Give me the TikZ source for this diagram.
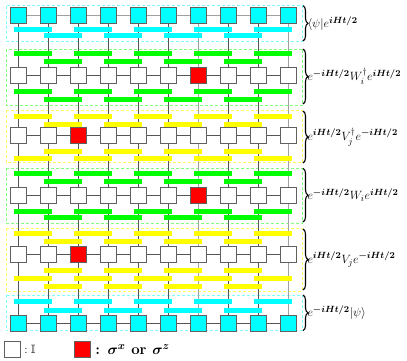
\documentclass[tikz,border=0pt]{standalone}
\usepackage{amsmath}
\usepackage{amssymb}
\usepackage{bm}
\usepackage{tikz}
\usetikzlibrary{positioning, decorations.pathreplacing, backgrounds}
\definecolor{qcyan}{HTML}{00FFFF}
\definecolor{qgreen}{HTML}{00FF00}
\definecolor{qyellow}{HTML}{FFFF00}
\definecolor{qred}{HTML}{FF0000}
\definecolor{dcyan}{HTML}{80FFFF}
\definecolor{dgreen}{HTML}{80FF80}
\definecolor{dyellow}{HTML}{FFFF60}
\definecolor{wiredark}{HTML}{555555}
\definecolor{wirelight}{HTML}{A0A0A0}
\definecolor{siteedge}{HTML}{606060}
\newcommand{\bexp}[1]{e^{\boldsymbol{#1}}}

\begin{document}
\begin{tikzpicture}[x=1pt, y=-1pt,
    site/.style={draw=siteedge, line width=1pt, minimum size=16pt, inner sep=0pt},
    gate/.style={inner sep=0pt, minimum width=38pt, minimum height=5pt},
    wire/.style={draw=wiredark, line width=0.9pt},
    softwire/.style={draw=wirelight, line width=1.3pt},
    layerbox/.style={dashed, line width=0.8pt, dash pattern=on 3pt off 2pt},
    bracket/.style={decorate, decoration={brace, amplitude=5pt}, line width=1.1pt},
    tag/.style={midway, anchor=west, xshift=4pt, inner sep=0pt, font=\fontsize{13}{15}\selectfont}]
  \useasboundingbox (0,0) rectangle (407,361);

  % sites of the six rows
  \foreach \r/\y/\col/\hit in {1/15.7/qcyan/0, 2/75.7/white/7, 3/135.7/white/3,
                               4/195/white/7, 5/254.3/white/3, 6/323.3/qcyan/0}{
    \foreach \c in {1,...,10}{
      \ifnum\c=\hit \def\f{qred}\else \def\f{\col}\fi
      \node[site, fill=\f] (s\r-\c) at ({18.3+30*(\c-1)},\y) {};
    }
  }

  % dashed boxes and wires behind
  \begin{scope}[on background layer]
    \draw[layerbox, dcyan]   (6,5.7)   rectangle (302.5,41);
    \draw[layerbox, dgreen]  (6,49)    rectangle (302.5,105.3);
    \draw[layerbox, dyellow] (6,110)   rectangle (302.5,162.7);
    \draw[layerbox, dgreen]  (6,168.3) rectangle (302.5,223.3);
    \draw[layerbox, dyellow] (6,228.3) rectangle (302.5,291);
    \draw[layerbox, dcyan]   (6,295)   rectangle (302.5,330.7);
    \foreach \c in {1,...,10}{
      \ifnum\c=7 \def\w{softwire}\else\ifnum\c=10 \def\w{softwire}\else \def\w{wire}\fi\fi
      \draw[\w] (s1-\c) -- (s6-\c);
    }
    \foreach \c [evaluate=\c as \n using int(\c+1)] in {1,...,9}{
      \draw[softwire] (s1-\c) -- (s1-\n);
      \foreach \r in {2,...,6}
        \draw[wire] (s\r-\c) -- (s\r-\n);
    }
  \end{scope}

  % two-site gates, layer by layer (0: even bonds, 1: odd bonds)
  \foreach \l/\y/\col/\sh in {1/29.3/qcyan/0, 2/35.7/qcyan/1,
      3/54/qgreen/0, 4/61.7/qgreen/1, 5/91/qgreen/0, 6/99/qgreen/1,
      7/116/qyellow/0, 8/124/qyellow/1, 9/151/qyellow/1, 10/158.3/qyellow/0,
      11/173.3/qgreen/0, 12/181/qgreen/1, 13/211/qgreen/0, 14/217.7/qgreen/1,
      15/233.3/qyellow/0, 16/241/qyellow/1, 17/270.7/qyellow/1, 18/278.3/qyellow/0,
      19/286/qyellow/1, 20/301.7/qcyan/0, 21/310/qcyan/1}{
    \ifnum\sh=0 \def\nb{5}\else \def\nb{4}\fi
    \foreach \k in {1,...,\nb}
      \node[gate, fill=\col] (g\l-\k) at ({33.3+30*\sh+60*(\k-1)},\y) {};
  }

  % braces and labels
  \draw[bracket] (303,5.7) -- (303,41)
    node[tag] {$\langle\psi|\bexp{iHt/2}$};
  \draw[bracket] (303,49) -- (303,104)
    node[tag] {$\bexp{-iHt/2}W_i^\dagger\bexp{iHt/2}$};
  \draw[bracket] (303,111) -- (303,163)
    node[tag] {$\bexp{iHt/2}V_j^\dagger\bexp{-iHt/2}$};
  \draw[bracket] (303,168.3) -- (303,222)
    node[tag] {$\bexp{-iHt/2}W_i\bexp{iHt/2}$};
  \draw[bracket] (303,229) -- (303,290)
    node[tag] {$\bexp{iHt/2}V_j\bexp{-iHt/2}$};
  \draw[bracket] (303,295) -- (303,330.7)
    node[tag] {$\bexp{-iHt/2}|\psi\rangle$};

  % legend
  \node[site, fill=white] (keyid) at (12.3,349.3) {};
  \node[right=0pt of keyid, font=\large] (keyidtext) {$:\mathbb{I}$};
  \node[site, fill=qred] (keyop) at (82.3,349.3) {};
  \node[right=1pt of keyop, font=\bfseries\fontsize{15}{18}\selectfont] (keyoptext)
    {: $\boldsymbol{\sigma^x}$ or $\boldsymbol{\sigma^z}$};
\end{tikzpicture}
\end{document}
